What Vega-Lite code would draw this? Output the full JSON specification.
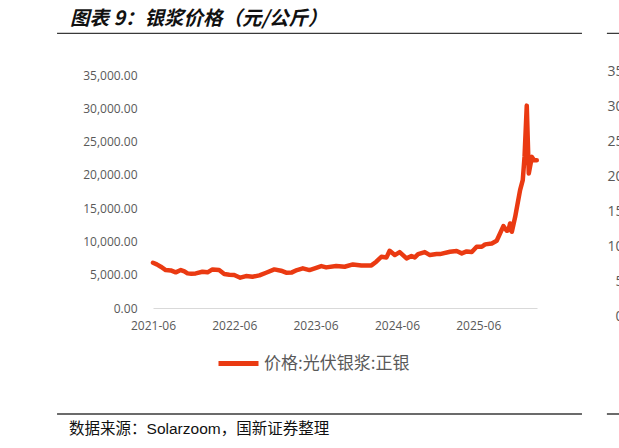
{
  "$schema": "https://vega.github.io/schema/vega-lite/v6.json",
  "width": 384,
  "height": 233,
  "autosize": {"type": "none"},
  "padding": {"left": 153, "top": 75, "right": 82, "bottom": 140},
  "background": "white",
  "title": {
    "text": "图表 9：银浆价格（元/公斤）",
    "anchor": "start",
    "frame": "group",
    "dx": -83,
    "dy": 12,
    "offset": 0,
    "baseline": "alphabetic",
    "font": "Noto Sans CJK SC",
    "fontSize": 19.5,
    "fontWeight": "bold",
    "fontStyle": "italic",
    "color": "#111111"
  },
  "config": {"view": {"stroke": null}},
  "resolve": {"scale": {"y": "independent"}},
  "layer": [
    {
      "data": {
        "values": [
          {"date": "2021-06-01", "price": 6800},
          {"date": "2021-06-18", "price": 6550},
          {"date": "2021-07-06", "price": 6200},
          {"date": "2021-07-28", "price": 5700},
          {"date": "2021-08-20", "price": 5650},
          {"date": "2021-09-11", "price": 5360},
          {"date": "2021-10-04", "price": 5700},
          {"date": "2021-10-20", "price": 5500},
          {"date": "2021-11-03", "price": 5200},
          {"date": "2021-11-20", "price": 5150},
          {"date": "2021-12-10", "price": 5200},
          {"date": "2022-01-09", "price": 5450},
          {"date": "2022-02-01", "price": 5360},
          {"date": "2022-02-23", "price": 5800},
          {"date": "2022-03-10", "price": 5750},
          {"date": "2022-03-25", "price": 5700},
          {"date": "2022-04-17", "price": 5100},
          {"date": "2022-05-10", "price": 5000},
          {"date": "2022-06-01", "price": 4950},
          {"date": "2022-06-28", "price": 4550},
          {"date": "2022-07-24", "price": 4800},
          {"date": "2022-08-22", "price": 4700},
          {"date": "2022-09-22", "price": 4900},
          {"date": "2022-10-22", "price": 5300},
          {"date": "2022-11-28", "price": 5800},
          {"date": "2022-12-28", "price": 5600},
          {"date": "2023-01-20", "price": 5300},
          {"date": "2023-02-15", "price": 5350},
          {"date": "2023-03-10", "price": 5700},
          {"date": "2023-04-05", "price": 5960},
          {"date": "2023-05-05", "price": 5700},
          {"date": "2023-06-01", "price": 6000},
          {"date": "2023-06-27", "price": 6300},
          {"date": "2023-07-19", "price": 6100},
          {"date": "2023-09-02", "price": 6300},
          {"date": "2023-10-10", "price": 6200},
          {"date": "2023-11-16", "price": 6550},
          {"date": "2023-12-24", "price": 6400},
          {"date": "2024-02-07", "price": 6400},
          {"date": "2024-02-29", "price": 6950},
          {"date": "2024-03-23", "price": 7700},
          {"date": "2024-04-15", "price": 7600},
          {"date": "2024-04-29", "price": 8600},
          {"date": "2024-05-22", "price": 7950},
          {"date": "2024-06-13", "price": 8400},
          {"date": "2024-07-14", "price": 7450},
          {"date": "2024-08-05", "price": 7800},
          {"date": "2024-08-20", "price": 7600},
          {"date": "2024-09-04", "price": 8100},
          {"date": "2024-10-04", "price": 8400},
          {"date": "2024-10-27", "price": 7950},
          {"date": "2024-11-26", "price": 8100},
          {"date": "2024-12-11", "price": 8100},
          {"date": "2025-01-25", "price": 8450},
          {"date": "2025-02-24", "price": 8560},
          {"date": "2025-03-19", "price": 8200},
          {"date": "2025-04-10", "price": 8500},
          {"date": "2025-05-03", "price": 8400},
          {"date": "2025-05-25", "price": 9200},
          {"date": "2025-06-17", "price": 9200},
          {"date": "2025-07-02", "price": 9560},
          {"date": "2025-08-01", "price": 9700},
          {"date": "2025-08-23", "price": 10100},
          {"date": "2025-09-22", "price": 12300},
          {"date": "2025-10-07", "price": 11600},
          {"date": "2025-10-15", "price": 11700},
          {"date": "2025-10-22", "price": 12700},
          {"date": "2025-10-30", "price": 11450},
          {"date": "2025-11-14", "price": 13700},
          {"date": "2025-12-06", "price": 17700},
          {"date": "2025-12-18", "price": 19200},
          {"date": "2025-12-26", "price": 22700},
          {"date": "2026-01-05", "price": 30400},
          {"date": "2026-01-14", "price": 20200},
          {"date": "2026-01-28", "price": 22700},
          {"date": "2026-02-07", "price": 22200},
          {"date": "2026-02-19", "price": 22200}
        ]
      },
      "mark": {"type": "line", "strokeWidth": 4.5, "strokeJoin": "round", "strokeCap": "round"},
      "encoding": {
        "x": {
          "field": "date",
          "type": "temporal",
          "scale": {"domain": [{"year": 2021, "month": 6, "date": 1}, {"year": 2026, "month": 2, "date": 20}]},
          "axis": {
            "values": [
              {"year": 2021, "month": 6, "date": 1},
              {"year": 2022, "month": 6, "date": 1},
              {"year": 2023, "month": 6, "date": 1},
              {"year": 2024, "month": 6, "date": 1},
              {"year": 2025, "month": 6, "date": 1}
            ],
            "format": "%Y-%m",
            "title": null,
            "grid": false,
            "ticks": false,
            "domainColor": "#D9D9D9",
            "domainWidth": 1,
            "labelColor": "#595959",
            "labelFont": "Open Sans",
            "labelFontSize": 12,
            "labelPadding": 12,
            "labelFlush": false,
            "labelOverlap": false
          }
        },
        "y": {
          "field": "price",
          "type": "quantitative",
          "scale": {"domain": [0, 35000]},
          "axis": {
            "values": [0, 5000, 10000, 15000, 20000, 25000, 30000, 35000],
            "format": ",.2f",
            "title": null,
            "grid": false,
            "ticks": false,
            "domain": false,
            "labelColor": "#595959",
            "labelFont": "Open Sans",
            "labelFontSize": 12,
            "labelPadding": 16
          }
        },
        "color": {
          "datum": "价格:光伏银浆:正银",
          "scale": {"range": ["#EA3A12"]},
          "legend": {
            "title": null,
            "orient": "none",
            "legendX": 63,
            "legendY": 266,
            "padding": 0,
            "symbolType": "stroke",
            "symbolStrokeWidth": 5,
            "symbolSize": 1600,
            "labelFont": "Noto Sans CJK SC",
            "labelFontSize": 17,
            "labelColor": "#595959",
            "labelOffset": 3
          }
        }
      }
    },
    {
      "data": {"values": [{}]},
      "mark": {"type": "rule", "color": "#3a3a3a", "strokeWidth": 1.3},
      "encoding": {
        "x": {"datum": {"year": 2020, "month": 3, "date": 27}, "type": "temporal"},
        "x2": {"datum": {"year": 2026, "month": 9, "date": 10}},
        "y": {"datum": 41263, "type": "quantitative", "scale": {"domain": [0, 35000]}, "axis": null}
      }
    },
    {
      "data": {"values": [{}]},
      "mark": {"type": "rule", "color": "#3a3a3a", "strokeWidth": 1.3},
      "encoding": {
        "x": {"datum": {"year": 2026, "month": 12, "date": 31}, "type": "temporal"},
        "x2": {"datum": {"year": 2028, "month": 1, "date": 1}},
        "y": {"datum": 41263, "type": "quantitative", "scale": {"domain": [0, 35000]}, "axis": null}
      }
    },
    {
      "data": {"values": [{}]},
      "mark": {"type": "rule", "color": "#3a3a3a", "strokeWidth": 1.3},
      "encoding": {
        "x": {"datum": {"year": 2020, "month": 3, "date": 27}, "type": "temporal"},
        "x2": {"datum": {"year": 2026, "month": 9, "date": 10}},
        "y": {"datum": -15921, "type": "quantitative", "scale": {"domain": [0, 35000]}, "axis": null}
      }
    },
    {
      "data": {"values": [{}]},
      "mark": {"type": "rule", "color": "#3a3a3a", "strokeWidth": 1.3},
      "encoding": {
        "x": {"datum": {"year": 2026, "month": 12, "date": 31}, "type": "temporal"},
        "x2": {"datum": {"year": 2028, "month": 1, "date": 1}},
        "y": {"datum": -15921, "type": "quantitative", "scale": {"domain": [0, 35000]}, "axis": null}
      }
    },
    {
      "data": {"values": [{}]},
      "mark": {
        "type": "text",
        "text": "数据来源：Solarzoom，国新证券整理",
        "align": "left",
        "baseline": "middle",
        "font": "Liberation Sans, Noto Sans CJK SC",
        "fontSize": 15.5,
        "color": "#111111"
      },
      "encoding": {
        "x": {"datum": {"year": 2020, "month": 5, "date": 20}, "type": "temporal"},
        "y": {"datum": -18174, "type": "quantitative", "scale": {"domain": [0, 35000]}, "axis": null}
      }
    },
    {
      "data": {"values": [{}]},
      "mark": {"type": "rule", "opacity": 0},
      "encoding": {
        "y": {
          "datum": 0,
          "type": "quantitative",
          "scale": {"domain": [0, 35], "range": [241, -3.3]},
          "axis": {
            "orient": "right",
            "values": [0, 5, 10, 15, 20, 25, 30, 35],
            "format": "d",
            "title": null,
            "grid": false,
            "ticks": false,
            "domain": false,
            "labelAlign": "right",
            "labelPadding": 86,
            "labelColor": "#595959",
            "labelFont": "Open Sans",
            "labelFontSize": 14
          }
        }
      }
    }
  ]
}
